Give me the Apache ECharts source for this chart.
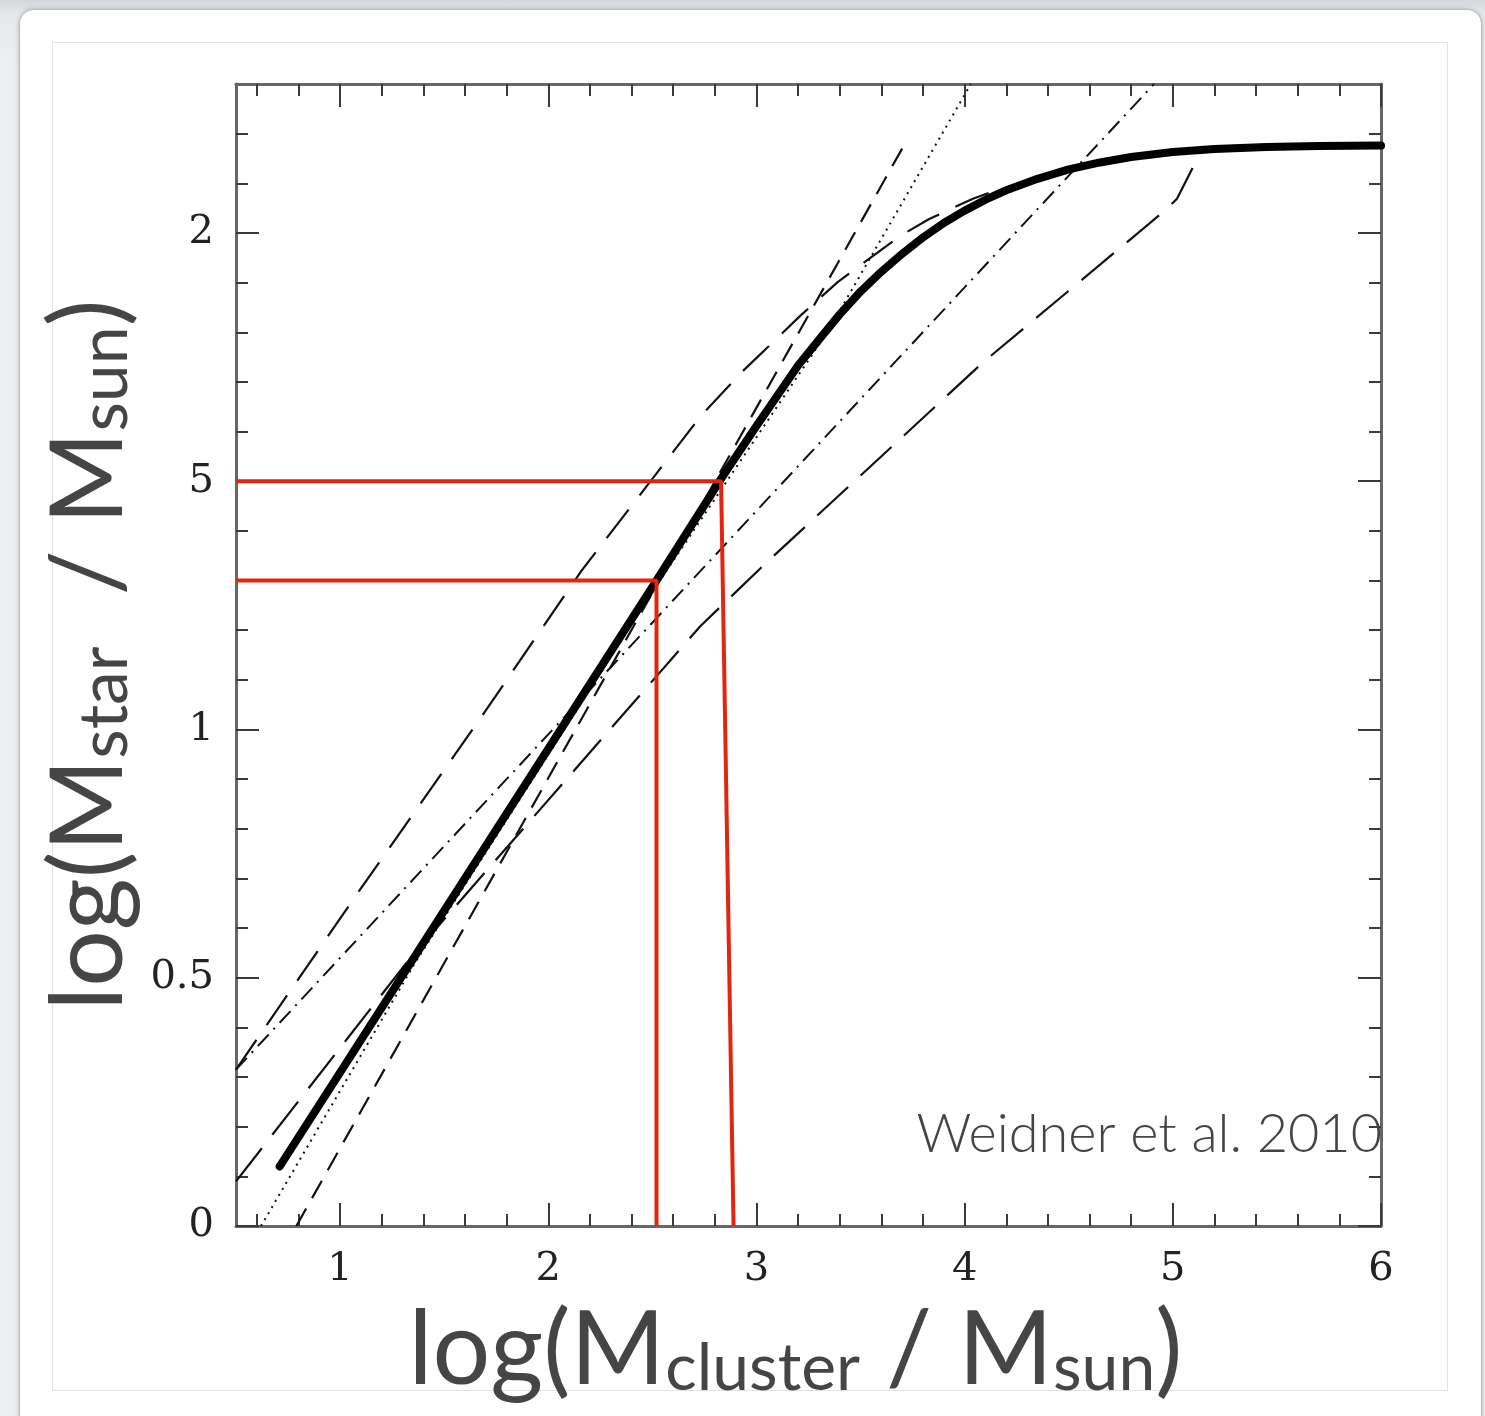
<!DOCTYPE html>
<html>
<head>
<meta charset="utf-8">
<title>Weidner et al. 2010</title>
<script src="https://cdn.jsdelivr.net/npm/echarts@6/dist/echarts.min.js"></script>
<style>
  html, body { margin: 0; padding: 0; width: 1485px; height: 1416px; overflow: hidden; }
  body { background: linear-gradient(#d3d6db 0px, #e6e8eb 14px, #eceef1 60px); position: relative; }
  #panel { position: absolute; left: 20px; top: 10px; width: 1461px; height: 1440px; background: #fff;
           border-radius: 14px; box-shadow: 0 0 5px rgba(0,0,0,0.35), 0 1px 2px rgba(0,0,0,0.25); }
  #frame { position: absolute; left: 52px; top: 42px; width: 1394px; height: 1347px; border: 1px solid #e3e3e3; }
  #chart { position: absolute; left: 0; top: 0; width: 1485px; height: 1416px; }
</style>
</head>
<body>
<div id="panel"></div>
<div id="frame"></div>
<div id="chart"></div>
<script>
// Axis ticks (log cluster mass on x, log maximum stellar mass on y)
const xMajorTicks = [1, 2, 3, 4, 5, 6];
const xMinorTicks = [0.6, 0.8, 1.2, 1.4, 1.6, 1.8, 2.2, 2.4, 2.6, 2.8, 3.2, 3.4, 3.6, 3.8,
                     4.2, 4.4, 4.6, 4.8, 5.2, 5.4, 5.6, 5.8];
const yMajorTicks = [0, 0.5, 1, 1.5, 2];
const yTickLabels = ['0', '0.5', '1', '5', '2'];
const yMinorTicks = [0.1, 0.2, 0.3, 0.4, 0.6, 0.7, 0.8, 0.9, 1.1, 1.2, 1.3, 1.4,
                     1.6, 1.7, 1.8, 1.9, 2.1, 2.2];

// Thick solid relation, saturating at high cluster mass
const bestFitX = [0.71, 2.52, 2.83, 3.0, 3.1, 3.2, 3.3, 3.4, 3.5, 3.6, 3.7, 3.8, 3.9, 4.0,
                  4.1, 4.2, 4.35, 4.5, 4.65, 4.8, 5.0, 5.2, 5.45, 5.7, 6.0];
const bestFitY = [0.12, 1.30, 1.505, 1.611, 1.672, 1.733, 1.785, 1.836, 1.882, 1.922, 1.958,
                  1.991, 2.020, 2.045, 2.067, 2.086, 2.109, 2.128, 2.142, 2.153, 2.163, 2.169,
                  2.173, 2.175, 2.176];

// Comparison relations
const dottedX = [0.62, 1.36, 2.52, 3.34, 4.03];
const dottedY = [0.0, 0.53, 1.29, 1.80, 2.30];
const shortDashX = [0.79, 3.70];
const shortDashY = [0.0, 2.17];
const dashDotX = [0.5, 4.91];
const dashDotY = [0.315, 2.30];
const lowerDashX = [0.5, 1.33, 1.75, 2.73, 3.05, 4.09, 4.97, 5.02, 5.13];
const lowerDashY = [0.09, 0.536, 0.738, 1.208, 1.337, 1.74, 2.048, 2.069, 2.16];
const upperDashX = [0.5, 1.1, 1.67, 2.16, 2.73, 2.93, 3.21, 3.39, 3.69, 3.83, 4.04, 4.17];
const upperDashY = [0.315, 0.68, 1.02, 1.32, 1.63, 1.72, 1.833, 1.901, 1.994, 2.028, 2.069, 2.089];

// Highlighted read-off guides
const guideLowX = [0.5, 2.52, 2.52];
const guideLowY = [1.3, 1.3, 0];
const guideHighX = [0.5, 2.83, 2.89];
const guideHighY = [1.5, 1.5, 0];

const pairs = (xs, ys) => xs.map((x, i) => [x, ys[i]]);

const AXIS_COLOR = '#676767';
const TICK_COLOR = '#3a3a3a';
const LABEL_FONT = 'DejaVu Serif';
const TITLE_FONT = 'Lato';
const TITLE_COLOR = '#454545';

function majorAxis(extra) {
  return Object.assign({
    type: 'value',
    axisLine: { show: true, onZero: false, lineStyle: { color: AXIS_COLOR, width: 3 } },
    splitLine: { show: false },
    axisPointer: { show: false }
  }, extra);
}
function minorAxis(extra) {
  return Object.assign({
    type: 'value',
    axisLine: { show: false, onZero: false },
    axisLabel: { show: false },
    splitLine: { show: false }
  }, extra);
}

const xRange = { min: 0.5, max: 6 };
const yRange = { min: 0, max: 2.3 };

const tickMajor = (vals) => ({ show: true, inside: true, length: 23, customValues: vals,
  lineStyle: { color: TICK_COLOR, width: 2 } });
const tickMinor = (vals) => ({ show: true, inside: true, length: 12, customValues: vals,
  lineStyle: { color: TICK_COLOR, width: 2 } });

const chart = echarts.init(document.getElementById('chart'), null, { renderer: 'canvas' });

const lineSeries = (name, xs, ys, style, extra) => Object.assign({
  name, type: 'line', data: pairs(xs, ys), showSymbol: false, symbol: 'none',
  xAxisIndex: 0, yAxisIndex: 0, clip: true, silent: true,
  lineStyle: Object.assign({ color: '#111', width: 2, cap: 'butt' }, style)
}, extra || {});

chart.setOption({
  animation: false,
  grid: { left: 236, right: 104, top: 84, bottom: 190, containLabel: false },
  xAxis: [
    majorAxis(Object.assign({
      position: 'bottom',
      axisTick: tickMajor(xMajorTicks),
      axisLabel: { show: true, customValues: xMajorTicks, margin: 24,
        fontFamily: LABEL_FONT, fontSize: 40, color: '#222',
        formatter: (v) => String(v) },
      name: '{m|log(M}{s|cluster}{m| / M}{s|sun}{m|)}',
      nameLocation: 'middle',
      nameGap: 62,
      nameTextStyle: {
        padding: [0, 26, 0, 0],
        rich: {
          m: { fontFamily: TITLE_FONT, fontSize: 102, color: TITLE_COLOR, lineHeight: 114, verticalAlign: 'bottom' },
          s: { fontFamily: TITLE_FONT, fontSize: 66, color: TITLE_COLOR, lineHeight: 64, verticalAlign: 'bottom' }
        }
      }
    }, xRange)),
    minorAxis(Object.assign({ position: 'bottom', axisTick: tickMinor(xMinorTicks) }, xRange)),
    majorAxis(Object.assign({ position: 'top', axisTick: tickMajor(xMajorTicks), axisLabel: { show: false } }, xRange)),
    minorAxis(Object.assign({ position: 'top', axisTick: tickMinor(xMinorTicks) }, xRange))
  ],
  yAxis: [
    majorAxis(Object.assign({
      position: 'left',
      axisTick: tickMajor(yMajorTicks),
      axisLabel: { show: true, customValues: yMajorTicks, margin: 22,
        fontFamily: LABEL_FONT, fontSize: 40, color: '#222',
        formatter: (v) => yTickLabels[yMajorTicks.indexOf(v)] },
      name: '{m|log(M}{s|star}{m|  / M}{s|sun}{m|)}',
      nameLocation: 'middle',
      nameRotate: 90,
      nameGap: 86,
      nameTextStyle: {
        rich: {
          m: { fontFamily: TITLE_FONT, fontSize: 100, color: TITLE_COLOR, lineHeight: 112, verticalAlign: 'bottom' },
          s: { fontFamily: TITLE_FONT, fontSize: 68, color: TITLE_COLOR, lineHeight: 64, verticalAlign: 'bottom' }
        }
      }
    }, yRange)),
    minorAxis(Object.assign({ position: 'left', axisTick: tickMinor(yMinorTicks) }, yRange)),
    majorAxis(Object.assign({ position: 'right', axisTick: tickMajor(yMajorTicks), axisLabel: { show: false } }, yRange)),
    minorAxis(Object.assign({ position: 'right', axisTick: tickMinor(yMinorTicks) }, yRange))
  ],
  graphic: [{
    type: 'text',
    right: 103,
    top: 1108,
    z: 100,
    style: { text: 'Weidner et al. 2010', font: '300 54px Lato', fill: '#444' }
  }],
  series: [
    lineSeries('dotted', dottedX, dottedY, { type: [2, 5], width: 2 }),
    lineSeries('short dashed', shortDashX, shortDashY, { type: [20, 12], width: 2.2 }),
    lineSeries('dash-dot', dashDotX, dashDotY, { type: [16, 7, 2, 7], width: 2 }),
    lineSeries('long dashed (lower)', lowerDashX, lowerDashY, { type: [42, 17], width: 2.2 }),
    lineSeries('long dashed (upper)', upperDashX, upperDashY, { type: [36, 18], width: 2.2 }),
    lineSeries('relation', bestFitX, bestFitY, { color: '#000', width: 8, cap: 'round', join: 'round' }, { z: 3 }),
    lineSeries('guide low', guideLowX, guideLowY, { color: '#e2260c', width: 4 }, { z: 5, clip: false }),
    lineSeries('guide high', guideHighX, guideHighY, { color: '#e2260c', width: 4 }, { z: 5, clip: false })
  ]
});
</script>
</body>
</html>
